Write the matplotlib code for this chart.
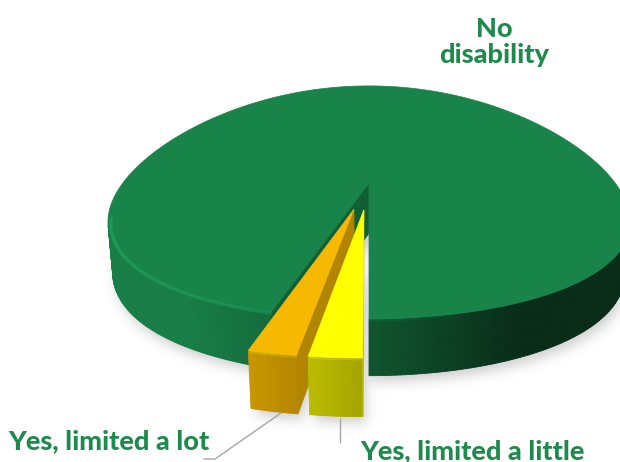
import numpy as np
import matplotlib
matplotlib.use("Agg")
import matplotlib.pyplot as plt
from matplotlib.patches import Polygon
from matplotlib.path import Path
from matplotlib.colors import to_rgb
from matplotlib.collections import LineCollection

# data
labels = ["No\ndisability", "Yes, limited a lot", "Yes, limited a little"]
shares = [94.8, 2.5, 2.7]
explode = [0.0, 0.23, 0.23]
colours = ["#19844a", "#f7b900", "#ffff00"]
label_colour = "#1e8b4c"

# camera for the 3-D look (pixel space, y down)
ELEV = np.radians(26.1)
DIST = 5.4
FOCAL = 1390.0
THICK = 0.22
SAG = 20.0          # sides of the disc sit a little lower, like Excel draws it
CX, CY = 369.0, 183.0
START = 270.0
LIGHT = np.array([-0.95, -0.32]) / np.hypot(0.95, 0.32)
CAM = np.array([0.0, -DIST * np.cos(ELEV), DIST * np.sin(ELEV)])


def project(x, y, z):
    x, y, z = np.broadcast_arrays(np.asarray(x, float), np.asarray(y, float), np.asarray(z, float))
    depth = DIST + y * np.cos(ELEV) - z * np.sin(ELEV)
    u = FOCAL * x / depth
    v = FOCAL * (y * np.sin(ELEV) + z * np.cos(ELEV)) / depth
    return np.column_stack([CX + u, CY - v + SAG * x ** 2])


def shade(colour, k):
    return tuple(np.clip(np.array(to_rgb(colour)) * k, 0, 1))


def facing(point, normal):
    return np.dot(CAM - point, normal) > 0


def gaussian_blur(img, sigma):
    r = int(3 * sigma)
    k = np.exp(-0.5 * (np.arange(-r, r + 1) / sigma) ** 2)
    k /= k.sum()
    img = np.apply_along_axis(lambda m: np.convolve(m, k, mode="same"), 0, img)
    img = np.apply_along_axis(lambda m: np.convolve(m, k, mode="same"), 1, img)
    return img


fig = plt.figure(figsize=(6.2, 4.62), dpi=100)
ax = fig.add_axes([0, 0, 1, 1])
ax.set_xlim(0, 620)
ax.set_ylim(462, 0)
ax.axis("off")

# slice angles, counter-clockwise from the front
bounds = START + 360.0 * np.concatenate([[0], np.cumsum(shares)]) / sum(shares)
slices = []
for i in range(len(shares)):
    a0, a1 = bounds[i], bounds[i + 1]
    mid = np.radians((a0 + a1) / 2)
    off = np.array([np.cos(mid), np.sin(mid)]) * explode[i]
    slices.append((a0, a1, off))

# soft shadow under the pie
W, H = 620, 462
gx, gy = np.meshgrid(np.arange(W) + 0.5, np.arange(H) + 0.5)
pts = np.column_stack([gx.ravel(), gy.ravel()])
mask = np.zeros(W * H)
for a0, a1, off in slices:
    t = np.radians(np.linspace(a0, a1, 200))
    xs = np.concatenate([[off[0]], off[0] + np.cos(t)])
    ys = np.concatenate([[off[1]], off[1] + np.sin(t)])
    outline = project(xs, ys, -THICK) + np.array([3, 6])
    mask = np.maximum(mask, Path(outline).contains_points(pts))
mask = gaussian_blur(mask.reshape(H, W), 6.0)
rgba = np.zeros((H, W, 4))
rgba[..., :3] = 0.55
rgba[..., 3] = 0.42 * mask
ax.imshow(rgba, extent=(0, W, H, 0), zorder=0, interpolation="bilinear")

z = 1
for (a0, a1, off), col in zip(slices, colours):
    ox, oy = off
    # outer wall
    t = np.linspace(a0, a1, int(abs(a1 - a0)) + 2)
    for ta, tb in zip(t[:-1], t[1:]):
        tm = np.radians((ta + tb) / 2)
        n = np.array([np.cos(tm), np.sin(tm), 0.0])
        p = np.array([ox + n[0], oy + n[1], 0.0])
        if not facing(p, n):
            continue
        k = np.clip(0.45 + 0.6 * np.dot(n[:2], LIGHT), 0.33, 0.95)
        ra, rb = np.radians(ta), np.radians(tb)
        xs = ox + np.array([np.cos(ra), np.cos(rb), np.cos(rb), np.cos(ra)])
        ys = oy + np.array([np.sin(ra), np.sin(rb), np.sin(rb), np.sin(ra)])
        zs = np.array([0, 0, -THICK, -THICK])
        c = shade(col, k)
        ax.add_patch(Polygon(project(xs, ys, zs), closed=True, fc=c, ec=c, lw=0.6, zorder=z))
    # cut faces
    for ang, side in ((a0, -90), (a1, 90)):
        r = np.radians(ang)
        nr = np.radians(ang + side)
        n = np.array([np.cos(nr), np.sin(nr), 0.0])
        if not facing(np.array([ox, oy, 0.0]), n):
            continue
        xs = np.array([ox, ox + np.cos(r), ox + np.cos(r), ox])
        ys = np.array([oy, oy + np.sin(r), oy + np.sin(r), oy])
        zs = np.array([0, 0, -THICK, -THICK])
        c = shade(col, 0.72)
        ax.add_patch(Polygon(project(xs, ys, zs), closed=True, fc=c, ec=c, lw=0.6, zorder=z + 0.1))
    # top face
    t = np.radians(np.linspace(a0, a1, 400))
    xs = np.concatenate([[ox], ox + np.cos(t)])
    ys = np.concatenate([[oy], oy + np.sin(t)])
    ax.add_patch(Polygon(project(xs, ys, 0.0), closed=True, fc=col, ec=col, lw=0.5, zorder=z + 0.2))
    # bevel highlight hugging the near rim, brightest towards the light
    tt = np.linspace(a0, a1, 400)
    tt = tt[np.sin(np.radians(tt)) < -0.1]
    if len(tt):
        rr = np.radians(tt)
        rim = project(ox + 0.99 * np.cos(rr), oy + 0.99 * np.sin(rr), -0.01)
        segs = np.stack([rim[:-1], rim[1:]], axis=1)
        keep = np.diff(tt) < 2
        lit = np.clip(np.cos(rr[:-1]) * LIGHT[0] + np.sin(rr[:-1]) * LIGHT[1], 0, 1)
        hl = "#ffff9a" if col == "#ffff00" else shade(col, 1.3)
        seg_cols = [to_rgb(hl) + (0.55 * a,) for a in lit]
        lc = LineCollection(segs[keep], colors=np.array(seg_cols)[keep], linewidths=2.4,
                            zorder=z + 0.3, capstyle="butt")
        ax.add_collection(lc)
    z += 1

# labels
font = dict(family="Lato", weight="black", color=label_colour, fontsize=19.5)
top_lines = labels[0].split("\n")
ax.text(494, 37, top_lines[0], ha="center", va="baseline", zorder=10, **font)
ax.text(494, 63, top_lines[1], ha="center", va="baseline", zorder=10, **font)
ax.text(8, 449, labels[1], ha="left", va="baseline", zorder=10, **font)
ax.text(360, 459, labels[2], ha="left", va="baseline", zorder=10, **font)

# leader lines
ax.plot([204, 215, 281], [459, 459, 413], color="#a6a6a6", lw=1, zorder=10)
ax.plot([340, 340], [419, 442], color="#a6a6a6", lw=1, zorder=10)

fig.savefig("out.png", dpi=100)
